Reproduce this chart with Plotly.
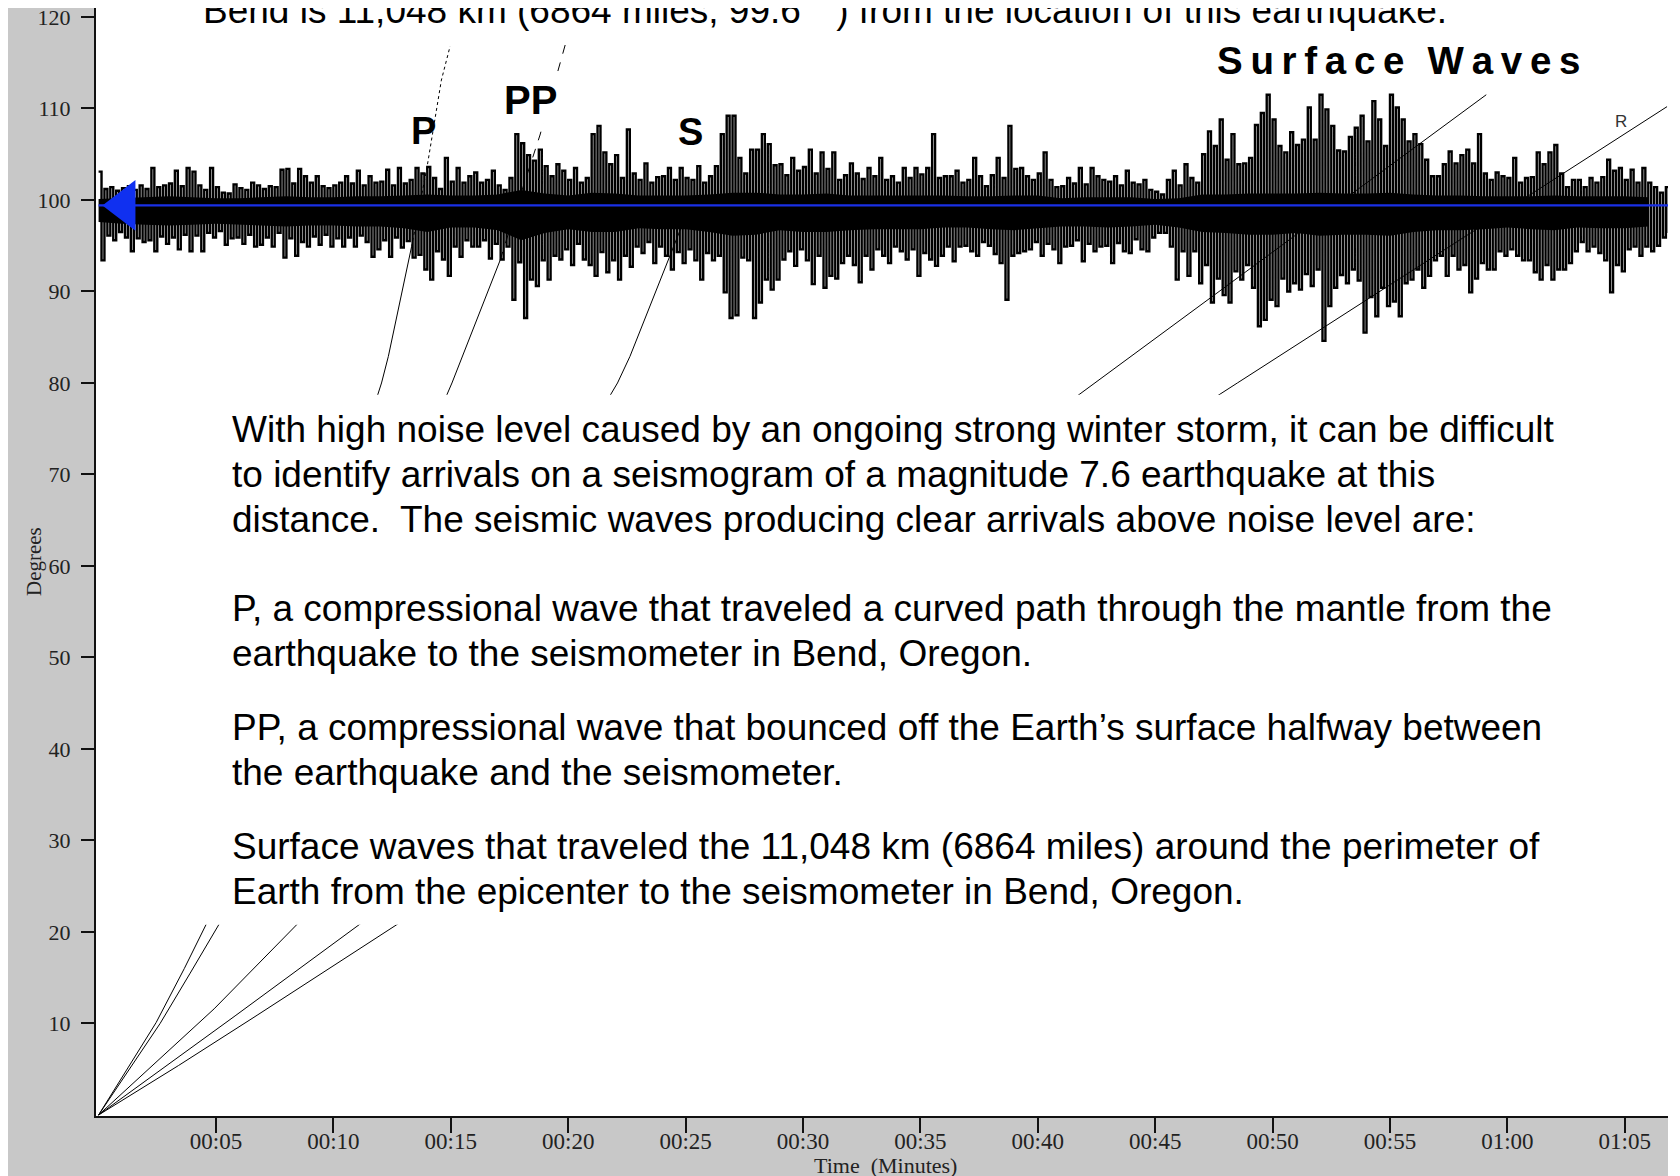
import numpy as np
import plotly.graph_objects as go

# ---------------- data ----------------
tick_minutes = [5, 10, 15, 20, 25, 30, 35, 40, 45, 50, 55, 60, 65]
tick_labels = ["00:05", "00:10", "00:15", "00:20", "00:25", "00:30", "00:35",
               "00:40", "00:45", "00:50", "00:55", "01:00", "01:05"]
degree_ticks = [10, 20, 30, 40, 50, 60, 70, 80, 90, 100, 110, 120]

station_distance = 99.4      # seismogram baseline (degrees)
sample_step = 0.25           # minutes between envelope readings

# upper excursions of the seismogram (degrees above baseline), 4 per minute
trace_up = [
    3.7, 1.8, 2.0, 1.6,  1.9, 2.1, 1.7, 2.2,  1.8, 4.1, 2.0, 2.2,  2.4, 3.8, 2.1, 4.1,
    3.7, 2.2, 1.7, 4.1,  2.0, 1.4, 1.3, 2.3,  1.9, 1.7, 2.5, 2.2,  1.8, 2.1, 2.0, 3.9,
    4.0, 2.4, 4.0, 3.2,  2.5, 3.2, 2.1, 1.9,  2.2, 2.5, 3.2, 2.4,  3.8, 2.2, 3.2, 2.5,
    2.6, 3.9, 2.2, 4.1,  2.4, 2.8, 4.1, 3.5,  4.2, 3.0, 1.8, 5.2,  2.6, 4.1, 2.5, 3.2,
    3.6, 2.5, 2.8, 3.8,  2.2, 1.7, 3.0, 7.8,  6.8, 5.5, 4.9, 6.1,  4.3, 3.2, 4.5, 3.8,
    2.8, 4.1, 2.5, 3.0,  7.8, 8.7, 5.8, 4.5,  5.5, 3.0, 8.3, 3.5,  2.8, 4.6, 2.5, 3.1,
    3.2, 4.1, 2.8, 4.1,  3.0, 2.8, 4.3, 2.5,  3.2, 4.3, 7.8, 9.8,  9.8, 5.2, 3.5, 6.1,
    6.1, 7.8, 6.7, 4.4,  4.5, 3.3, 5.2, 3.8,  4.2, 6.1, 3.5, 5.8,  4.0, 5.8, 2.8, 3.3,
    4.6, 3.5, 2.9, 4.1,  3.2, 5.2, 2.8, 3.2,  2.5, 4.1, 3.0, 4.1,  3.4, 4.1, 7.8, 3.0,
    3.2, 3.2, 3.8, 2.5,  2.8, 5.2, 3.2, 2.1,  3.3, 5.2, 3.0, 8.7,  4.0, 4.1, 3.2, 2.8,
    3.5, 5.8, 2.8, 2.0,  2.1, 3.0, 2.4, 4.1,  2.3, 4.1, 3.2, 2.8,  2.6, 3.2, 2.2, 3.8,
    2.5, 2.3, 2.8, 1.7,  1.5, 1.2, 2.8, 3.8,  2.2, 4.5, 3.0, 2.5,  5.6, 8.1, 6.5, 9.4,
    5.0, 7.8, 4.5, 4.6,  5.2, 8.8, 10.1, 12.1, 9.4, 6.5, 5.8, 8.0, 6.6, 7.2, 10.7, 7.2,
    12.1, 10.5, 8.7, 6.0, 5.9, 7.5, 8.5, 9.8, 7.0, 11.4, 9.4, 6.5, 12.1, 10.7, 9.4, 7.0,
    7.8, 6.7, 5.0, 3.2,  3.2, 4.5, 5.9, 4.6,  5.5, 6.1, 4.6, 7.8,  3.5, 2.8, 3.6, 3.2,
    3.0, 5.2, 2.5, 3.0,  3.1, 5.8, 4.5, 5.8,  6.6, 3.5, 2.0, 2.8,  2.8, 2.0, 3.0, 2.5,
    3.1, 5.0, 3.8, 4.1,  2.8, 3.9, 2.5, 4.1,  2.5, 2.0, 1.4, 2.0,
]
# lower excursions (degrees below baseline), 4 per minute
trace_down = [
    6.0, 3.3, 3.8, 2.9,  3.5, 5.0, 3.6, 4.0,  3.8, 5.0, 3.4, 4.2,  3.5, 4.8, 3.2, 5.0,
    3.3, 5.0, 3.0, 3.5,  2.8, 4.3, 3.6, 3.5,  4.2, 3.2, 4.5, 4.3,  3.5, 4.5, 3.0, 5.7,
    3.6, 5.5, 4.0, 4.5,  3.4, 4.3, 3.2, 4.5,  3.6, 4.5, 3.5, 4.5,  3.3, 4.0, 5.6, 4.8,
    3.8, 5.6, 3.5, 4.6,  3.9, 5.7, 5.4, 7.0,  8.1, 5.0, 5.9, 7.7,  4.5, 5.6, 3.8, 4.5,
    4.5, 3.8, 5.8, 4.2,  5.9, 4.5, 10.3, 6.2, 12.3, 8.1, 8.8, 6.0, 8.1, 5.5, 5.9, 4.8,
    6.5, 4.2, 5.9, 6.5,  7.7, 5.1, 7.3, 6.0,  8.1, 5.5, 6.7, 4.5,  5.2, 4.0, 6.3, 4.5,
    5.5, 7.0, 5.1, 6.3,  4.8, 6.0, 8.1, 5.2,  6.0, 5.5, 9.5, 12.3, 12.0, 5.7, 6.0, 12.3,
    10.6, 8.1, 9.2, 8.1, 5.9, 5.0, 6.6, 4.8,  6.0, 8.6, 5.5, 9.0,  7.7, 8.0, 6.3, 5.5,
    6.5, 8.4, 5.5, 7.0,  4.8, 5.5, 6.3, 4.5,  5.0, 5.9, 4.8, 7.7,  5.2, 5.9, 6.6, 5.5,
    4.5, 6.1, 4.5, 4.4,  5.0, 5.5, 4.0, 4.4,  5.3, 6.3, 10.3, 5.5, 5.2, 5.0, 4.8, 4.0,
    5.5, 4.2, 4.8, 6.3,  4.5, 4.4, 3.8, 6.1,  4.2, 5.0, 4.5, 4.4,  6.3, 4.1, 5.0, 5.2,
    3.7, 4.8, 5.0, 3.5,  3.0, 3.0, 4.5, 8.1,  5.0, 7.7, 5.0, 8.5,  6.5, 10.6, 8.0, 9.8,
    10.6, 7.2, 8.1, 6.5, 9.0, 13.2, 12.5, 10.3, 11.0, 8.0, 9.4, 8.5, 9.2, 7.5, 8.8, 7.0,
    14.8, 11.0, 9.0, 7.6, 8.5, 7.0, 8.2, 13.9, 10.0, 12.1, 9.0, 11.0, 10.5, 12.1, 8.5, 8.1,
    7.0, 9.0, 7.7, 6.0,  5.5, 7.7, 5.5, 7.0,  6.5, 9.5, 8.0, 6.3,  7.0, 7.0, 5.0, 5.5,
    4.8, 5.5, 6.0, 6.0,  7.3, 8.1, 6.5, 8.1,  7.0, 7.0, 6.3, 5.0,  4.0, 5.0, 4.5, 5.2,
    6.0, 9.5, 6.5, 7.2,  4.8, 4.5, 5.5, 4.5,  5.0, 4.4, 3.5, 3.0,
]
# dense solid core of the trace, one reading per minute (0..66)
core_up = [0.7, 0.8, 0.9, 1.0, 0.9, 0.8, 0.8, 0.9, 1.0, 0.9, 0.9, 1.0, 1.0,
           1.1, 1.2, 1.1, 1.1, 1.2, 1.7, 1.3, 1.1, 1.4, 1.3, 1.1, 1.1, 1.1, 1.2,
           1.4, 1.4, 1.2, 1.2, 1.3, 1.1, 1.1, 1.1, 1.1, 1.1, 1.0, 1.0, 1.1, 1.1,
           0.8, 0.9, 0.9, 0.9, 0.7, 0.8,
           1.2, 1.2, 1.3, 1.3, 1.3, 1.4, 1.3, 1.3, 1.4, 1.2,
           1.1, 1.1, 1.0, 1.0, 1.0, 1.1, 1.0, 1.0, 1.0, 0.9]
core_down = [1.8, 2.0, 2.1, 2.2, 2.1, 2.0, 2.1, 2.2, 2.3, 2.2, 2.2, 2.3, 2.3,
             2.5, 2.9, 2.4, 2.4, 2.7, 3.8, 3.0, 2.6, 2.9, 2.9, 2.5, 2.6, 2.6, 2.9,
             3.3, 3.2, 2.7, 2.9, 2.9, 2.7, 2.6, 2.6, 2.6, 2.4, 2.4, 2.6, 2.7, 2.5,
             2.3, 2.3, 2.4, 2.3, 2.1, 2.4,
             2.9, 3.0, 3.2, 3.2, 3.0, 3.3, 3.2, 3.2, 3.3, 2.9,
             2.7, 2.7, 2.6, 2.4, 2.6, 2.7, 2.4, 2.5, 2.5, 2.3]

# travel-time curves: distance (degrees) vs time (minutes)
P_dist = [0, 3.55, 10.1, 16.0, 21.6, 80, 82.9, 94.9, 103.3, 113.1, 116.8]
P_time = [0, 0.85, 2.45, 3.65, 4.73, 12.05, 12.34, 13.33, 13.97, 14.6, 14.97]
PP_dist = [0, 10, 15.5, 20.8, 80, 82.9, 93.4, 100, 107.1, 117.2]
PP_time = [0, 2.62, 3.9, 5.12, 15.05, 15.5, 17.1, 17.9, 18.8, 19.9]
S_dist = [0, 5.4, 11.6, 20.8, 80, 82.9, 94.2, 99.5]
S_time = [0, 2.3, 4.92, 8.44, 22.1, 22.63, 24.4, 25.2]
L_dist = [0, 5.4, 10.9, 20.8, 80, 111.5]
L_time = [0, 2.9, 5.85, 11.1, 42.4, 59.1]
R_dist = [0, 5.4, 10.9, 20.8, 80, 110.2]
R_time = [0, 3.4, 6.75, 12.7, 48.5, 66.8]

# ---------------- figure ----------------
X_RANGE = [-0.11, 66.84]
Y_RANGE = [-0.11, 120.98]
fig = go.Figure()

def curve(t, d, dash="solid"):
    fig.add_trace(go.Scatter(x=t, y=d, mode="lines", hoverinfo="skip",
                             line=dict(color="black", width=1, dash=dash)))

curve(P_time[:8], P_dist[:8])
curve(P_time[7:], P_dist[7:], "dot")
curve(PP_time[:7], PP_dist[:7])
curve(PP_time[6:], PP_dist[6:], "dash")
curve(S_time, S_dist)
curve(L_time, L_dist)
curve(R_time, R_dist)

up = np.array(trace_up)
dn = np.array(trace_down)
t = np.arange(len(up)) * sample_step
xs = np.empty(2 * len(t)); ys = np.empty(2 * len(t))
xs[0::2] = t; xs[1::2] = t + sample_step / 2
ys[0::2] = station_distance + up; ys[1::2] = station_distance - dn

cm = np.arange(len(core_up), dtype=float)
fig.add_trace(go.Scatter(
    x=np.concatenate([cm, cm[::-1]]),
    y=np.concatenate([station_distance + np.array(core_up),
                      (station_distance - np.array(core_down))[::-1]]),
    mode="lines", fill="toself", fillcolor="black", line=dict(width=0),
    hoverinfo="skip"))
fig.add_trace(go.Scatter(x=xs, y=ys, mode="lines", hoverinfo="skip",
                         line=dict(color="black", width=2.4, shape="hv")))
fig.add_trace(go.Scatter(x=[0, X_RANGE[1]], y=[station_distance] * 2, mode="lines",
                         line=dict(color="#1a30e6", width=2.2), hoverinfo="skip"))
fig.add_trace(go.Scatter(x=[1.1], y=[station_distance], mode="markers",
                         marker=dict(symbol="triangle-left", size=44, color="#1030f0",
                                     line=dict(width=0)), hoverinfo="skip"))

# the page body adds an 8 px white border; figure fills the rest of the window
W, H = 1660, 1168
ML, MR, MT, MB = 88, 0, 0, 60
PW, PH = W - ML - MR, H - MT - MB
OFF = 8  # page offset of the figure

def px(X):   # page x -> paper
    return (X - OFF - ML) / PW

def py(Y):   # page y -> paper
    return 1 - (Y - OFF - MT) / PH

shapes = [
    # white box behind explanation text
    dict(type="rect", xref="x", yref="y", x0=0, x1=X_RANGE[1], y0=20.8, y1=78.7,
         fillcolor="white", line=dict(width=0), layer="above"),
]

SANS = "Liberation Sans, Arial, sans-serif"
SERIF = "Liberation Serif, Times New Roman, serif"
ann = []
body = [
    (429.6, "With high noise level caused by an ongoing strong winter storm, it can be difficult"),
    (474.6, "to identify arrivals on a seismogram of a magnitude 7.6 earthquake at this"),
    (519.6, "distance.  The seismic waves producing clear arrivals above noise level are:"),
    (608.6, "P, a compressional wave that traveled a curved path through the mantle from the"),
    (653.6, "earthquake to the seismometer in Bend, Oregon."),
    (727.5, "PP, a compressional wave that bounced off the Earth\u2019s surface halfway between"),
    (772.5, "the earthquake and the seismometer."),
    (846.4, "Surface waves that traveled the 11,048 km (6864 miles) around the perimeter of"),
    (891.4, "Earth from the epicenter to the seismometer in Bend, Oregon."),
]
for Y, txt in body:
    ann.append(dict(xref="paper", yref="paper", x=px(230), y=py(Y), text=txt,
                    xanchor="left", yanchor="middle", showarrow=False,
                    font=dict(family=SANS, size=37, color="black")))
ann.append(dict(xref="paper", yref="paper", x=px(201), y=py(10),
                text="Bend is 11,048 km (6864 miles, 99.6\u00b0  ) from the location of this earthquake.",
                xanchor="left", yanchor="middle", showarrow=False,
                font=dict(family=SANS, size=37, color="black")))
for X, Y, txt, sz, bg in [(423, 131, "P", 38, None), (530, 100, "PP", 40, "white"),
                         (690, 132, "S", 38, None)]:
    a = dict(xref="paper", yref="paper", x=px(X), y=py(Y), text="<b>%s</b>" % txt,
             xanchor="center", yanchor="middle", showarrow=False,
             font=dict(family=SANS, size=sz, color="black"))
    if bg:
        a["bgcolor"] = bg
    ann.append(a)
ann.append(dict(xref="paper", yref="paper", x=px(1398), y=py(60),
                text="<b>" + "\u2009".join("Surface") + "\u2009\u2009\u2009" + "\u2009".join("Waves") + "</b>",
                xanchor="center", yanchor="middle", showarrow=False,
                font=dict(family=SANS, size=38.5, color="black")))
ann.append(dict(xref="paper", yref="paper", x=px(1621), y=py(121), text="R",
                xanchor="center", yanchor="middle", showarrow=False,
                font=dict(family=SANS, size=17, color="#333333")))
# axis titles
ann.append(dict(xref="paper", yref="paper", x=px(885), y=py(1165), text="Time  (Minutes)",
                xanchor="center", yanchor="middle", showarrow=False,
                font=dict(family=SERIF, size=22, color="#222")))
ann.append(dict(xref="paper", yref="paper", x=px(34), y=py(562), text="Degrees",
                xanchor="center", yanchor="middle", showarrow=False, textangle=-90,
                font=dict(family=SERIF, size=21, color="#222")))

fig.update_layout(
    width=W, height=H, margin=dict(l=ML, r=MR, t=MT, b=MB, pad=0),
    paper_bgcolor="#c8c8c8", plot_bgcolor="white", showlegend=False,
    shapes=shapes, annotations=ann,
    xaxis=dict(range=X_RANGE, tickvals=tick_minutes, ticktext=tick_labels,
               automargin=False, ticks="outside", ticklen=15, tickwidth=2,
               tickcolor="#111", showline=True, linecolor="#111", linewidth=2,
               showgrid=False, zeroline=False, ticklabelstandoff=-12,
               ticklabeloverflow="allow",
               tickfont=dict(family=SERIF, size=23, color="#222")),
    yaxis=dict(range=Y_RANGE, tickvals=degree_ticks, automargin=False,
               ticks="outside", ticklen=13, tickwidth=2, tickcolor="#111",
               showline=True, linecolor="#111", linewidth=2, showgrid=False,
               zeroline=False, ticklabelstandoff=6, ticklabeloverflow="allow",
               tickfont=dict(family=SERIF, size=22, color="#222")),
)
fig.write_html("out.html")
